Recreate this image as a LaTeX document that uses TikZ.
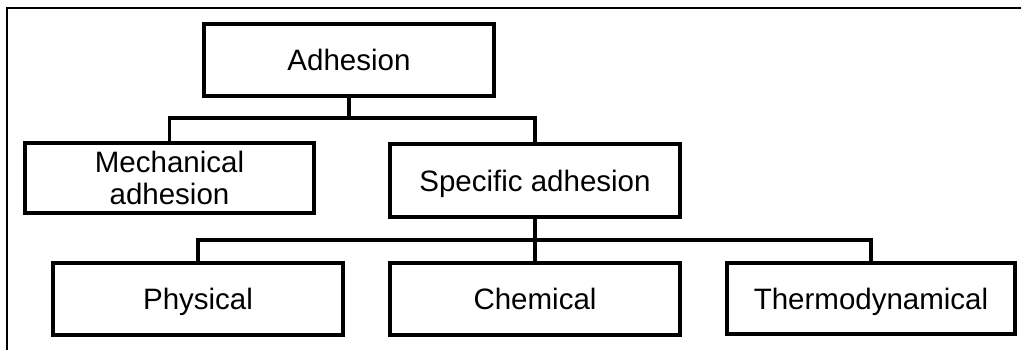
\documentclass[tikz,border=0pt]{standalone}
\usepackage{fontspec}
\setmainfont{Liberation Sans}
\begin{document}
\begin{tikzpicture}[x=1pt,y=-1pt,
  box/.style={draw=black,line width=3.4pt,rectangle,inner sep=0pt,align=center,
    font=\fontsize{29.5}{30}\selectfont},
  onebox/.style={box,text height=21.5pt,text depth=0pt},
  conn/.style={draw=black,line width=3.4pt}]
\useasboundingbox (0,0) rectangle (1021,350);
\draw[line width=2.6pt] (7,350) -- (7,8) -- (1021,8);
\node[onebox,minimum width=290pt,minimum height=72pt] (adh) at (349,60) {Adhesion};
\node[box,minimum width=289pt,minimum height=70pt] (mech) at (169.5,178) {Mechanical\\[2pt]adhesion};
\node[onebox,minimum width=290pt,minimum height=73pt] (spec) at (535,180.5) {Specific adhesion};
\node[onebox,minimum width=290pt,minimum height=72pt] (phys) at (198,299) {Physical};
\node[onebox,minimum width=290pt,minimum height=72pt] (chem) at (535,299) {Chemical};
\node[onebox,minimum width=288pt,minimum height=71pt] (thermo) at (871,298.5) {Thermodynamical};
\coordinate (j1) at (349,118);
\coordinate (j2) at (535,240);
\draw[conn] (adh.south) -- (j1);
\draw[conn] (mech.north) -- (mech.north |- j1) -- (spec.north |- j1) -- (spec.north);
\draw[conn] (spec.south) -- (chem.north);
\draw[conn] (phys.north) -- (phys.north |- j2) -- (thermo.north |- j2) -- (thermo.north);
\end{tikzpicture}
\end{document}
